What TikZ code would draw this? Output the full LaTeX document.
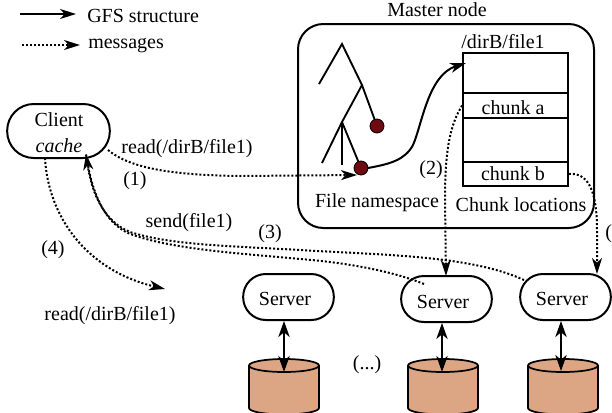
\documentclass[tikz,border=0pt]{standalone}
\usepackage{fontspec}
\setmainfont{Liberation Serif}
\usetikzlibrary{shapes.geometric, arrows.meta}

\definecolor{diskfill}{HTML}{DCA684}
\definecolor{leaffill}{HTML}{6E0B10}
\tikzset{
  lbl/.style={inner sep=0.75pt, yshift=-1.5pt, font=\fontsize{15}{17}\selectfont},
  pill/.style={draw, line width=1.5pt, rounded corners=17pt, minimum width=68pt, minimum height=34.5pt, inner sep=0pt},
  cell/.style={draw, line width=1.3pt, minimum width=78.75pt, inner sep=0pt},
  disk/.style={draw, line width=1.3pt, fill=diskfill},
  leaf/.style={draw, line width=0.6pt, fill=leaffill, circle, minimum size=10.5pt, inner sep=0pt},
  branch/.style={line width=1.4pt},
  solidarrow/.style={line width=1.5pt, -{Stealth[length=12pt, width=7.5pt, inset=3.5pt]}},
  msg/.style={line width=1.5pt, dash pattern={on 1.5pt off 1.5pt}, -{Stealth[length=12pt, width=7.5pt, inset=3.5pt]}},
  msgplain/.style={line width=1.5pt, dash pattern={on 1.5pt off 1.5pt}},
  both/.style={line width=1.5pt, {Stealth[length=12pt, width=8.5pt, inset=3.5pt]}-{Stealth[length=12pt, width=8.5pt, inset=3.5pt]}},
}

\begin{document}
\begin{tikzpicture}[x=0.75pt,y=0.75pt,yscale=-1,xscale=1]
\useasboundingbox (0,0) rectangle (612,412);
\clip (0,0) rectangle (612,412);

% Legend
\coordinate (legA) at (20,14);
\coordinate (legB) at (76,14);
\coordinate (legC) at (22,45);
\coordinate (legD) at (80,45);
\draw [solidarrow] (legA) -- (legB);
\draw [msg] (legC) -- (legD);
\node (gfsLabel) [lbl, anchor=west] at (86,14) {GFS structure};
\node (msgLabel) [lbl, anchor=west] at (87,44) {messages};

% Client
\node (client) [pill, minimum width=77pt, minimum height=40.5pt, rounded corners=20pt] at (58.5,131) {};
\node (clientLabel) [lbl] at (59,118) {Client};
\node (cacheLabel) [lbl] at (59,144) {\itshape cache};

% Master node
\node (master) [draw, line width=1.5pt, rounded corners=19pt, minimum width=222pt, minimum height=153pt, inner sep=0pt] at (446,126) {};
\node (masterLabel) [lbl] at (437,8) {Master node};
\node (pathLabel) [lbl] at (503,40) {/dirB/file1};

% Chunk table
\node (cellTop) [cell, minimum height=30pt] at (515.5,73) {};
\node (cellA) [cell, minimum height=18.75pt] at (515.5,105.5) {};
\node (cellMid) [cell, minimum height=33pt] at (515.5,140) {};
\node (cellB) [cell, minimum height=18pt] at (515.5,174) {};
\node (chunkAlabel) [lbl] at (513,105.5) {chunk a};
\node (chunkBlabel) [lbl] at (513,172) {chunk b};
\node (nsLabel) [lbl] at (377,201) {File namespace};
\node (locLabel) [lbl] at (521,203) {Chunk locations};

% Namespace tree
\coordinate (rootT) at (342,44);
\coordinate (leftT) at (319,84);
\coordinate (forkA) at (362,85);
\coordinate (forkB) at (342,122);
\coordinate (legE) at (322,163);
\coordinate (legF) at (342,165);
\coordinate (fileEntry) at (466,63);
\draw [branch] (leftT) -- (rootT) -- (forkA) -- (377,126);
\draw [branch] (forkA) -- (forkB) -- (legE);
\draw [branch] (forkB) -- (legF);
\draw [branch] (forkB) -- (361,168);
\draw [solidarrow] (361,169) -- (368,168) .. controls (390,164) and (405,160) .. (413,145) .. controls (422,125) and (428,75) .. (fileEntry);
\node (leafA) [leaf] at (377,126) {};
\node (leafB) [leaf] at (361,168) {};

% Servers
\node (srvA) [pill] at (288.5,297) {};
\node (srvB) [pill] at (446.5,299) {};
\node (srvC) [pill] at (565.5,297) {};
\node (srvAlabel) [lbl] at (285,297) {Server};
\node (srvBlabel) [lbl] at (443,300) {Server};
\node (srvClabel) [lbl] at (562,297) {Server};

% Disks
\foreach \dx in {284,443,563} {
  \draw [disk] (\dx,408) ellipse [x radius=35, y radius=6.5];
  \fill [diskfill] (\dx-35,365.5) rectangle (\dx+35,408);
  \draw [line width=1.3pt] (\dx-35,365.5) -- (\dx-35,408);
  \draw [line width=1.3pt] (\dx+35,365.5) -- (\dx+35,408);
  \draw [disk] (\dx,365.5) ellipse [x radius=35, y radius=6.5];
}
\coordinate (topA) at (284,372);
\coordinate (topB) at (442,372);
\coordinate (topC) at (561,371);
\draw [both] (srvA.south -| topA) -- (topA);
\draw [both] (srvB.south -| topB) -- (topB);
\draw [both] (srvC.south -| topC) -- (topC);

% Messages
\coordinate (clientOut) at (108,150);
\coordinate (clientTip) at (86,154);
\coordinate (clientDown) at (45,158);
\coordinate (nsEntry) at (357,175);
\coordinate (readTip) at (165,289);
\coordinate (srvBtail) at (424,284);
\coordinate (srvCtail) at (524,280);
\draw [msg] (clientOut) .. controls (130,168) and (170,175) .. (240,176) -- (nsEntry);
\draw [msg] (cellA.west) .. controls (450,125) and (445,150) .. (445,200) -- (446,276);
\draw [msg] (cellB.east) .. controls (590,172) and (597,195) .. (597,230) -- (597,274);
\draw [msg] (srvCtail) .. controls (470,255) and (380,255) .. (300,250) .. controls (230,246) and (170,245) .. (130,232) .. controls (105,222) and (92,195) .. (clientTip);
\draw [msgplain] (srvBtail) .. controls (390,270) and (340,262) .. (300,259) .. controls (250,254) and (170,250) .. (128,233) .. controls (105,222) and (92,195) .. (clientTip);
\draw [msg] (clientDown) .. controls (48,215) and (85,270) .. (readTip);

% Text Node
\node (readA) [lbl] at (187,147) {read(/dirB/file1)};
\node (stepOne) [lbl] at (135,179) {(1)};
\node (stepTwo) [lbl] at (431,168) {(2)};
\node (stepThree) [lbl] at (270,232) {(3)};
\node (stepFour) [lbl] at (53,248) {(4)};
\node (sendL) [lbl] at (189,221) {send(file1)};
\node (readB) [lbl] at (110,314) {read(/dirB/file1)};
\node (dots) [lbl] at (367,363) {(...)};
\node (stepCut) [lbl, anchor=west] at (604,232) {(};

\end{tikzpicture}
\end{document}
